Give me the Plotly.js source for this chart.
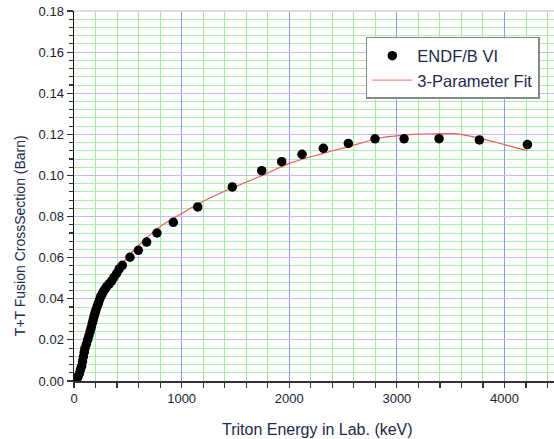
<!DOCTYPE html>
<html>
<head>
<meta charset="utf-8">
<script src="https://cdn.plot.ly/plotly-3.0.1.min.js"></script>
<style>html,body{margin:0;padding:0;background:#fff;}#chart{width:554px;height:439px;}</style>
</head>
<body>
<div id="chart"></div>
<script>
// ENDF/B VI data points (keV, barn)
const endfEnergy = [2, 12, 25, 36, 50, 60, 71, 79, 87, 95, 102, 115, 127, 138, 149, 160, 170, 178, 186, 195, 204, 215, 226, 237, 248, 260, 273, 288, 304, 327, 350, 372, 397, 420, 449, 520, 598, 675, 771, 923, 1150, 1471, 1744, 1930, 2119, 2317, 2549, 2797, 3067, 3392, 3767, 4213];
const endfSigma  = [0.0000, 0.0002, 0.0006, 0.0020, 0.0037, 0.0055, 0.0072, 0.0095, 0.0118, 0.0140, 0.0159, 0.0180, 0.0200, 0.0220, 0.0240, 0.0260, 0.0281, 0.0297, 0.0313, 0.0330, 0.0345, 0.0362, 0.0378, 0.0395, 0.0410, 0.0422, 0.0435, 0.0447, 0.0459, 0.0473, 0.0487, 0.0505, 0.0524, 0.0545, 0.0563, 0.0602, 0.0636, 0.0676, 0.0720, 0.0772, 0.0847, 0.0944, 0.1023, 0.1067, 0.1103, 0.1132, 0.1156, 0.1178, 0.1178, 0.1179, 0.1173, 0.1150];
// 3-parameter fit curve
const fitEnergy = [40, 50, 81, 118, 164, 211, 273, 365, 490, 644, 799, 985, 1171, 1471, 1750, 2007, 2300, 2550, 2844, 3150, 3400, 3557, 3773, 4000, 4207];
const fitSigma  = [0.0000, 0.0020, 0.0086, 0.0167, 0.0248, 0.0330, 0.0410, 0.0508, 0.0597, 0.0681, 0.0751, 0.0810, 0.0866, 0.0940, 0.1000, 0.1060, 0.1105, 0.1140, 0.1182, 0.1200, 0.1203, 0.1202, 0.1180, 0.1150, 0.1121];
const seriesNames = ["ENDF/B VI", "3-Parameter Fit"];
const xTitle = 'Triton Energy in Lab. (keV)';
const yTitle = 'T+T Fusion CrossSection (Barn)';

const txtColor = '#23284a';
const data = [
  {x: fitEnergy, y: fitSigma, type: 'scatter', mode: 'lines', name: seriesNames[1],
   line: {color: 'rgb(240,90,90)', width: 1.2, shape: 'spline'}, showlegend: false},
  {x: endfEnergy, y: endfSigma, type: 'scatter', mode: 'markers', name: seriesNames[0],
   marker: {color: '#000', size: 9.5}},
  {x: [null], y: [null], type: 'scatter', mode: 'lines', name: seriesNames[1],
   line: {color: 'rgb(250,140,140)', width: 1.2}}
];

const layout = {
  width: 554, height: 439,
  margin: {l: 74, r: 0, t: 10.6, b: 58},
  paper_bgcolor: '#fff', plot_bgcolor: '#fff',
  font: {family: 'Liberation Sans, Arial, sans-serif', color: txtColor, size: 12},
  showlegend: true,
  legend: {x: 0.608, y: 0.93, xanchor: 'left', yanchor: 'top',
    bgcolor: '#fff', bordercolor: '#888', borderwidth: 1.5,
    font: {size: 16.5, color: txtColor}, itemwidth: 40, tracegroupgap: 0},
  xaxis: {
    range: [0, 4460], dtick: 1000, tick0: 0,
    showline: true, linecolor: '#333', linewidth: 1.5,
    ticks: 'outside', ticklen: 5, tickcolor: '#333', tickwidth: 1.2,
    tickfont: {size: 13, color: '#1a1d33'},
    showgrid: true, gridcolor: 'rgb(150,150,250)', gridwidth: 1,
    zeroline: false,
    minor: {dtick: 200, ticks: 'outside', ticklen: 5, tickcolor: '#333', showgrid: true, gridcolor: 'rgb(160,240,160)', gridwidth: 1}
  },
  yaxis: {
    range: [0, 0.18], dtick: 0.02, tick0: 0, tickformat: '.2f',
    showline: true, linecolor: '#111', linewidth: 1.5,
    ticks: 'outside', ticklen: 6, tickcolor: '#333', tickwidth: 1.2,
    tickfont: {size: 13, color: '#1a1d33'},
    showgrid: true, gridcolor: 'rgb(190,190,250)', gridwidth: 1,
    zeroline: false,
    minor: {dtick: 0.004, ticks: 'outside', ticklen: 4, tickcolor: '#333', showgrid: true, gridcolor: 'rgb(170,240,170)', gridwidth: 1}
  },
  annotations: [
    {text: xTitle, xref: 'paper', yref: 'paper', x: (317 - 74) / 480, y: (381 - 430) / 370.4,
     xanchor: 'center', yanchor: 'middle', showarrow: false, font: {size: 16, color: txtColor}},
    {text: yTitle, xref: 'paper', yref: 'paper', x: (20 - 74) / 480, y: (381 - 236) / 370.4,
     xanchor: 'center', yanchor: 'middle', textangle: -90, showarrow: false, font: {size: 14, color: txtColor}}
  ],
  shapes: [
    {type: 'line', xref: 'paper', yref: 'paper', x0: 0, x1: 1, y0: 1, y1: 1, line: {color: '#ddd', width: 2}}
  ]
};

Plotly.newPlot('chart', data, layout, {displayModeBar: false, staticPlot: true});
</script>
</body>
</html>
